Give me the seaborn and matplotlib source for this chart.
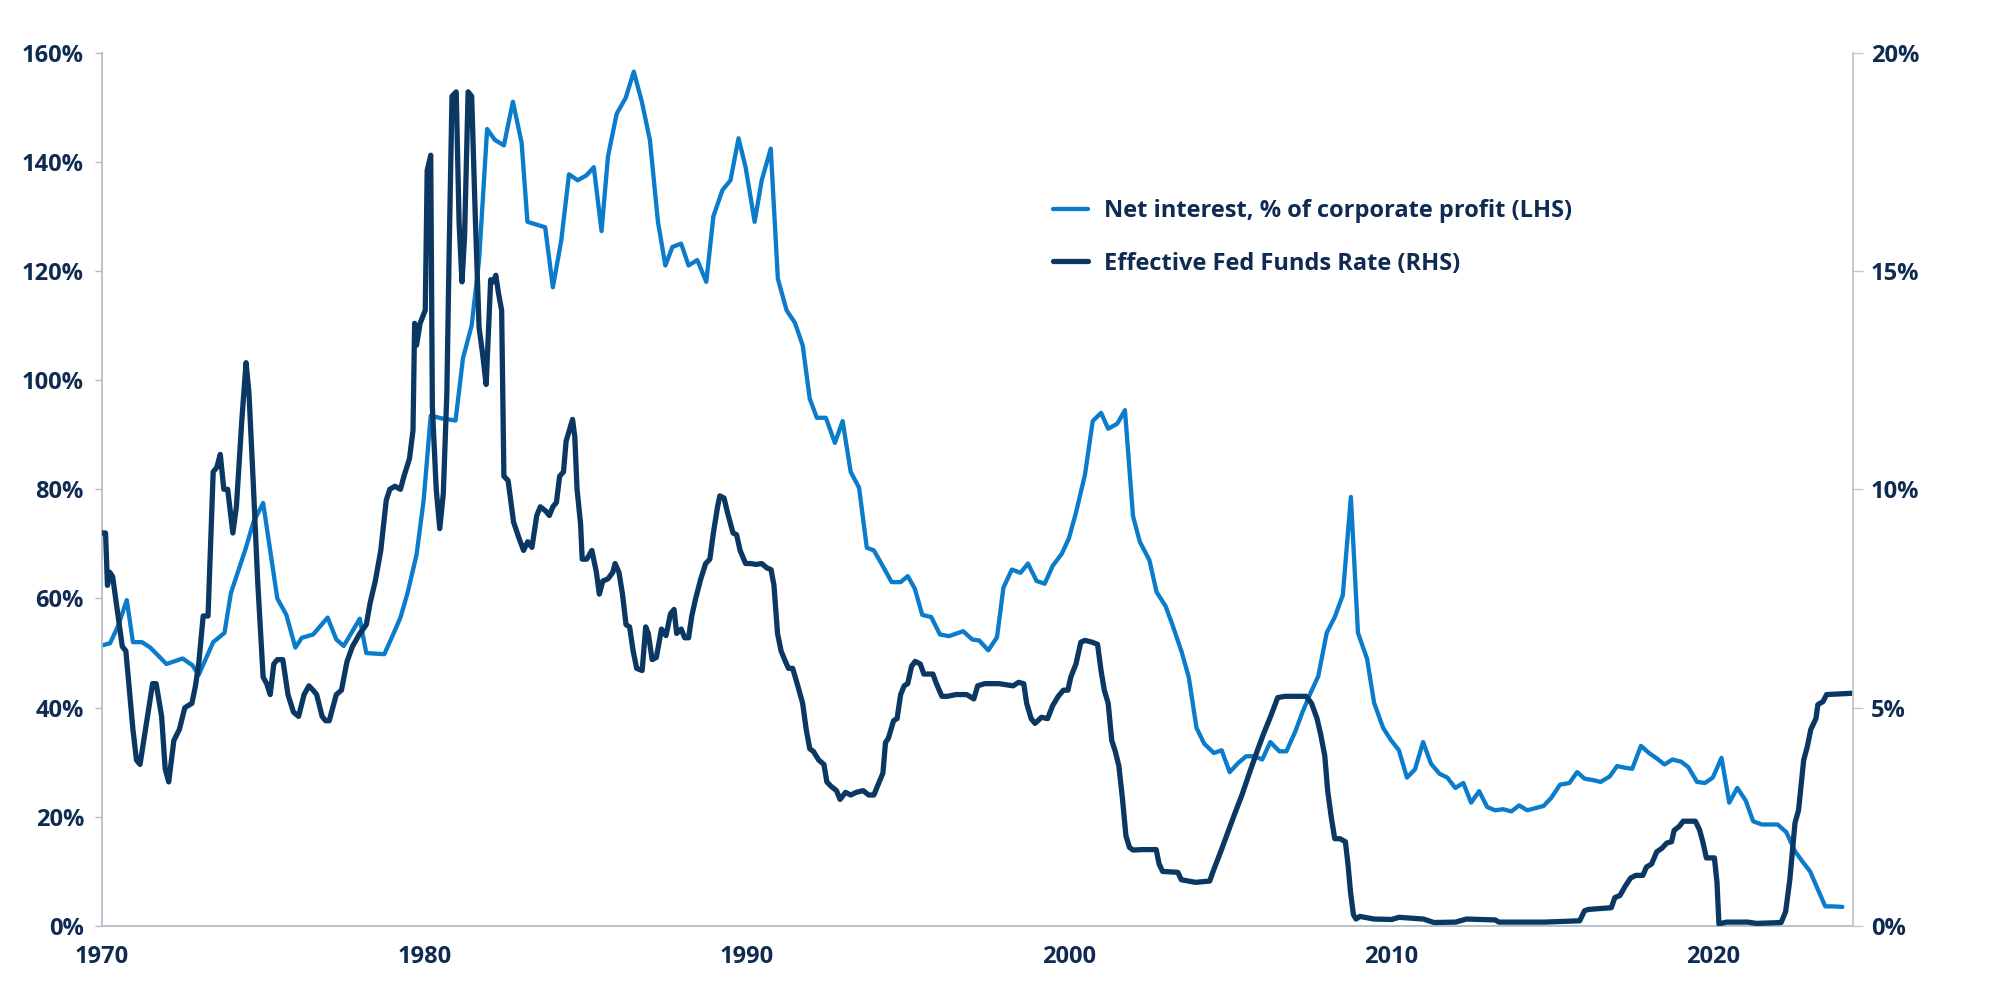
import matplotlib
matplotlib.use("Agg")
import matplotlib.pyplot as plt
import seaborn as sns
from matplotlib.ticker import FuncFormatter

# Net interest, % of corporate profit (LHS) (decimal year, %)
ni_year = [1970.0, 1970.25, 1970.5, 1970.77, 1970.96, 1971.24, 1971.5, 1971.7, 1972.0, 1972.5,
           1972.8, 1973.0, 1973.45, 1973.8, 1974.0, 1974.45, 1974.7, 1975.0, 1975.44, 1975.72,
           1976.0, 1976.2, 1976.55, 1977.0, 1977.27, 1977.5, 1978.0, 1978.2, 1978.76, 1979.04,
           1979.26, 1979.48, 1979.76, 1979.98, 1980.2, 1980.53, 1980.97, 1981.2, 1981.47, 1981.7,
           1981.95, 1982.19, 1982.47, 1982.75, 1983.02, 1983.2, 1983.75, 1983.99, 1984.25, 1984.49,
           1984.76, 1985.03, 1985.26, 1985.5, 1985.7, 1985.97, 1986.25, 1986.5, 1986.75, 1987.0,
           1987.25, 1987.48, 1987.7, 1987.97, 1988.2, 1988.47, 1988.75, 1988.97, 1989.25, 1989.5,
           1989.75, 1989.97, 1990.25, 1990.47, 1990.75, 1990.97, 1991.24, 1991.5, 1991.74, 1991.96,
           1992.18, 1992.46, 1992.74, 1992.98, 1993.23, 1993.49, 1993.73, 1993.95, 1994.23, 1994.5,
           1994.78, 1995.0, 1995.22, 1995.45, 1995.73, 1996.0, 1996.28, 1996.72, 1997.0, 1997.22,
           1997.5, 1997.77, 1997.97, 1998.23, 1998.5, 1998.73, 1999.0, 1999.25, 1999.5, 1999.78,
           2000.0, 2000.22, 2000.5, 2000.74, 2001.0, 2001.22, 2001.5, 2001.74, 2001.99, 2002.2,
           2002.5, 2002.72, 2003.0, 2003.2, 2003.5, 2003.72, 2003.96, 2004.2, 2004.5, 2004.74,
           2004.99, 2005.26, 2005.5, 2005.76, 2006.0, 2006.25, 2006.53, 2006.75, 2007.03, 2007.25,
           2007.5, 2007.74, 2008.0, 2008.25, 2008.5, 2008.75, 2008.97, 2009.25, 2009.47, 2009.75,
           2010.0, 2010.24, 2010.49, 2010.74, 2010.99, 2011.24, 2011.5, 2011.74, 2011.99, 2012.24,
           2012.48, 2012.73, 2012.98, 2013.22, 2013.47, 2013.73, 2013.97, 2014.22, 2014.47, 2014.73,
           2014.97, 2015.24, 2015.53, 2015.77, 2016.0, 2016.29, 2016.5, 2016.78, 2017.01, 2017.26,
           2017.48, 2017.75, 2018.0, 2018.24, 2018.48, 2018.73, 2019.0, 2019.22, 2019.49, 2019.74,
           2019.98, 2020.25, 2020.49, 2020.74, 2021.0, 2021.23, 2021.5, 2021.77, 2021.99, 2022.26,
           2022.53, 2022.75, 2023.0, 2023.24, 2023.47, 2023.72, 2024.0]
ni_pct = [51.4, 51.8, 55.0, 59.7, 52.0, 52.0, 51.0, 49.8, 48.0, 49.0,
          47.8, 46.0, 52.0, 53.7, 61.0, 69.0, 74.0, 77.5, 60.0, 57.0,
          51.0, 52.8, 53.4, 56.5, 52.5, 51.3, 56.3, 50.0, 49.8, 53.5,
          56.5, 61.0, 68.0, 78.0, 93.5, 93.0, 92.6, 104.0, 110.0, 122.0,
          146.0, 144.0, 143.0, 151.0, 143.5, 129.0, 128.0, 117.0, 125.6, 137.7,
          136.6, 137.5, 139.0, 127.3, 141.0, 148.8, 151.7, 156.5, 151.0, 144.0,
          129.0, 121.0, 124.4, 125.0, 121.0, 122.0, 118.0, 130.0, 134.8, 136.6,
          144.3, 139.0, 129.0, 136.6, 142.4, 118.6, 112.8, 110.5, 106.4, 96.6,
          93.1, 93.1, 88.5, 92.5, 83.2, 80.3, 69.3, 68.8, 65.9, 63.0,
          63.0, 64.1, 61.8, 57.0, 56.6, 53.4, 53.1, 54.0, 52.5, 52.3,
          50.5, 52.9, 62.0, 65.3, 64.7, 66.4, 63.2, 62.7, 66.0, 68.2,
          71.0, 75.7, 82.7, 92.5, 94.0, 91.1, 92.0, 94.5, 75.1, 70.4,
          67.0, 61.2, 58.6, 55.4, 50.2, 45.6, 36.3, 33.4, 31.7, 32.2,
          28.2, 29.9, 31.1, 31.1, 30.5, 33.7, 32.0, 32.0, 35.7, 39.2,
          42.7, 45.8, 53.7, 56.6, 60.6, 78.6, 53.7, 49.0, 40.9, 36.3,
          34.0, 32.2, 27.2, 28.7, 33.7, 29.7, 27.9, 27.2, 25.3, 26.2,
          22.6, 24.7, 21.8, 21.2, 21.4, 21.0, 22.1, 21.2, 21.6, 22.0,
          23.5, 25.9, 26.2, 28.2, 27.0, 26.7, 26.4, 27.4, 29.3, 29.0,
          28.8, 33.0, 31.7, 30.7, 29.6, 30.5, 30.1, 29.1, 26.4, 26.2,
          27.2, 30.8, 22.6, 25.3, 23.0, 19.2, 18.6, 18.6, 18.6, 17.2,
          13.7, 11.9, 10.0, 6.7, 3.6, 3.6, 3.5]

# Effective Fed Funds Rate (RHS) (decimal year, %)
ff_year = [1970.0, 1970.11, 1970.17, 1970.24, 1970.33, 1970.46, 1970.63, 1970.74, 1970.96, 1971.07,
           1971.18, 1971.35, 1971.57, 1971.68, 1971.85, 1971.96, 1972.07, 1972.23, 1972.4, 1972.57,
           1972.79, 1972.9, 1973.0, 1973.14, 1973.29, 1973.45, 1973.56, 1973.67, 1973.78, 1973.9,
           1974.06, 1974.17, 1974.34, 1974.47, 1974.56, 1974.69, 1974.83, 1975.0, 1975.11, 1975.22,
           1975.33, 1975.44, 1975.61, 1975.77, 1975.94, 1976.1, 1976.27, 1976.42, 1976.55, 1976.66,
           1976.83, 1976.94, 1977.05, 1977.27, 1977.43, 1977.6, 1977.77, 1978.0, 1978.2, 1978.32,
           1978.48, 1978.65, 1978.82, 1978.93, 1979.09, 1979.26, 1979.37, 1979.54, 1979.65, 1979.7,
           1979.76, 1979.87, 1980.03, 1980.09, 1980.2, 1980.25, 1980.37, 1980.48, 1980.59, 1980.7,
           1980.77, 1980.86, 1980.99, 1981.08, 1981.17, 1981.25, 1981.36, 1981.47, 1981.58, 1981.7,
           1981.81, 1981.92, 1982.06, 1982.14, 1982.22, 1982.3, 1982.4, 1982.47, 1982.6, 1982.77,
           1982.93, 1983.08, 1983.21, 1983.34, 1983.49, 1983.6, 1983.77, 1983.88, 1983.99, 1984.1,
           1984.2, 1984.32, 1984.4, 1984.52, 1984.6, 1984.67, 1984.74, 1984.85, 1984.9, 1985.04,
           1985.2, 1985.34, 1985.43, 1985.54, 1985.7, 1985.85, 1985.92, 1986.04, 1986.15, 1986.26,
           1986.37, 1986.48, 1986.59, 1986.76, 1986.87, 1986.95, 1987.07, 1987.2, 1987.36, 1987.5,
           1987.64, 1987.75, 1987.83, 1987.97, 1988.08, 1988.2, 1988.3, 1988.42, 1988.58, 1988.73,
           1988.86, 1988.97, 1989.1, 1989.17, 1989.3, 1989.41, 1989.58, 1989.69, 1989.8, 1989.97,
           1990.13, 1990.3, 1990.47, 1990.63, 1990.76, 1990.85, 1990.96, 1991.07, 1991.18, 1991.3,
           1991.43, 1991.57, 1991.74, 1991.85, 1991.96, 1992.07, 1992.24, 1992.4, 1992.49, 1992.62,
           1992.79, 1992.9, 1993.07, 1993.23, 1993.4, 1993.62, 1993.79, 1993.95, 1994.06, 1994.23,
           1994.31, 1994.4, 1994.56, 1994.67, 1994.78, 1994.89, 1995.0, 1995.12, 1995.23, 1995.39,
           1995.5, 1995.61, 1995.78, 1995.89, 1996.06, 1996.23, 1996.5, 1996.83, 1997.05, 1997.17,
           1997.39, 1997.83, 1998.27, 1998.44, 1998.6, 1998.69, 1998.83, 1998.95, 1999.15, 1999.34,
           1999.5, 1999.67, 1999.83, 1999.97, 2000.06, 2000.22, 2000.37, 2000.5, 2000.72, 2000.89,
           2001.0, 2001.1, 2001.22, 2001.33, 2001.44, 2001.55, 2001.66, 2001.77, 2001.88, 2001.99,
           2002.27, 2002.71, 2002.8, 2002.91, 2003.38, 2003.49, 2003.93, 2004.37, 2004.49, 2004.71,
           2004.93, 2005.15, 2005.37, 2005.6, 2005.82, 2006.04, 2006.26, 2006.48, 2006.7, 2007.36,
           2007.53, 2007.7, 2007.81, 2007.94, 2008.03, 2008.14, 2008.25, 2008.41, 2008.58, 2008.66,
           2008.74, 2008.83, 2008.91, 2009.03, 2009.47, 2010.02, 2010.24, 2011.0, 2011.33, 2012.0,
           2012.34, 2013.23, 2013.34, 2014.77, 2015.85, 2016.0, 2016.12, 2016.83, 2016.94, 2017.1,
           2017.26, 2017.43, 2017.59, 2017.81, 2017.92, 2018.08, 2018.24, 2018.4, 2018.55, 2018.7,
           2018.78, 2018.95, 2019.06, 2019.44, 2019.57, 2019.67, 2019.78, 2020.03, 2020.11, 2020.17,
           2020.41, 2021.06, 2021.34, 2022.1, 2022.24, 2022.37, 2022.53, 2022.64, 2022.8, 2022.91,
           2023.02, 2023.18, 2023.24, 2023.4, 2023.51, 2024.32]
ff_rate = [9.0, 9.0, 7.8, 8.1, 8.0, 7.3, 6.4, 6.3, 4.5, 3.8,
           3.7, 4.5, 5.55, 5.55, 4.8, 3.6, 3.3, 4.25, 4.5, 5.0,
           5.1, 5.5, 6.0, 7.1, 7.1, 10.4, 10.5, 10.8, 10.0, 10.0,
           9.0, 9.6, 11.6, 12.9, 12.2, 10.2, 7.9, 5.7, 5.55, 5.3,
           6.0, 6.1, 6.1, 5.3, 4.9, 4.8, 5.3, 5.5, 5.4, 5.3,
           4.8, 4.7, 4.7, 5.3, 5.4, 6.05, 6.4, 6.7, 6.9, 7.4,
           7.9, 8.6, 9.75, 10.0, 10.07, 10.0, 10.3, 10.7, 11.35, 13.8,
           13.3, 13.8, 14.1, 17.3, 17.65, 11.9, 10.0, 9.1, 9.9, 12.2,
           15.4, 19.0, 19.1, 16.1, 14.75, 15.8, 19.1, 19.0, 16.3, 13.7,
           13.1, 12.4, 14.8, 14.75, 14.9, 14.5, 14.1, 10.3, 10.2, 9.25,
           8.9, 8.6, 8.8, 8.67, 9.4, 9.6, 9.5, 9.4, 9.6, 9.7,
           10.3, 10.4, 11.1, 11.4, 11.6, 11.2, 10.0, 9.2, 8.4, 8.4,
           8.6, 8.1, 7.6, 7.9, 7.95, 8.1, 8.3, 8.1, 7.6, 6.9,
           6.85, 6.3, 5.9, 5.85, 6.85, 6.7, 6.1, 6.15, 6.8, 6.65,
           7.15, 7.25, 6.7, 6.8, 6.6, 6.6, 7.1, 7.5, 7.95, 8.3,
           8.4, 9.0, 9.6, 9.85, 9.8, 9.46, 9.0, 8.96, 8.6, 8.3,
           8.3, 8.28, 8.3, 8.2, 8.16, 7.8, 6.7, 6.3, 6.1, 5.9,
           5.9, 5.55, 5.1, 4.5, 4.06, 4.0, 3.8, 3.7, 3.3, 3.2,
           3.1, 2.9, 3.06, 3.0, 3.06, 3.1, 3.0, 3.0, 3.2, 3.5,
           4.2, 4.3, 4.7, 4.75, 5.3, 5.5, 5.55, 5.95, 6.06, 6.0,
           5.77, 5.77, 5.77, 5.55, 5.26, 5.26, 5.3, 5.3, 5.2, 5.5,
           5.55, 5.55, 5.5, 5.58, 5.55, 5.1, 4.75, 4.64, 4.78, 4.75,
           5.05, 5.26, 5.4, 5.4, 5.7, 6.0, 6.5, 6.54, 6.5, 6.45,
           5.84, 5.4, 5.1, 4.25, 4.0, 3.67, 2.94, 2.07, 1.8, 1.74,
           1.75, 1.75, 1.42, 1.25, 1.23, 1.06, 1.0, 1.03, 1.28, 1.7,
           2.14, 2.58, 3.0, 3.5, 3.96, 4.4, 4.8, 5.23, 5.26, 5.26,
           5.1, 4.75, 4.4, 3.9, 3.1, 2.5, 2.0, 2.0, 1.93, 1.42,
           0.77, 0.26, 0.16, 0.22, 0.16, 0.15, 0.2, 0.16, 0.08, 0.09,
           0.16, 0.14, 0.09, 0.09, 0.12, 0.35, 0.38, 0.42, 0.65, 0.7,
           0.91, 1.1, 1.16, 1.16, 1.35, 1.42, 1.7, 1.78, 1.9, 1.93,
           2.19, 2.29, 2.4, 2.4, 2.2, 1.93, 1.56, 1.56, 1.0, 0.05,
           0.09, 0.09, 0.06, 0.08, 0.33, 1.06, 2.36, 2.65, 3.8, 4.1,
           4.5, 4.75, 5.07, 5.14, 5.3, 5.33]

x_ticks = [1970, 1980, 1990, 2000, 2010, 2020]
lhs_ticks = [0, 20, 40, 60, 80, 100, 120, 140, 160]
rhs_ticks = [0, 5, 10, 15, 20]

label_ni = "Net interest, % of corporate profit (LHS)"
label_ff = "Effective Fed Funds Rate (RHS)"

light_blue = "#0b7bcb"
navy = "#0a3863"
text_col = "#0f2b52"
spine_col = "#b3bcc8"

sns.set_style("white")
plt.rcParams["font.family"] = ["Open Sans", "DejaVu Sans"]
plt.rcParams["font.weight"] = "bold"

fig = plt.figure(figsize=(20, 9.92), dpi=100)
ax = fig.add_axes([0.051, 0.0665, 0.8755, 0.8805])
ax2 = ax.twinx()

sns.lineplot(x=ni_year, y=ni_pct, ax=ax, color=light_blue, linewidth=3.1, legend=False)
sns.lineplot(x=ff_year, y=ff_rate, ax=ax2, color=navy, linewidth=3.8, legend=False)

ax.set_xlim(1970, 2024.33)
ax.set_ylim(0, 160)
ax2.set_ylim(0, 20)
ax.set_xticks(x_ticks)
ax.set_yticks(lhs_ticks)
ax2.set_yticks(rhs_ticks)
pct = FuncFormatter(lambda v, p: f"{v:.0f}%")
ax.yaxis.set_major_formatter(pct)
ax2.yaxis.set_major_formatter(pct)

for a in (ax, ax2):
    a.set_xlabel("")
    a.set_ylabel("")
    a.grid(False)
    a.spines["top"].set_visible(False)

ax.spines["right"].set_visible(False)
ax.spines["left"].set_color(spine_col)
ax.spines["bottom"].set_color(spine_col)
ax.spines["left"].set_linewidth(1.3)
ax.spines["bottom"].set_linewidth(1.3)
ax2.spines["left"].set_visible(False)
ax2.spines["bottom"].set_visible(False)
ax2.spines["right"].set_color("#c2c5c9")
ax2.spines["right"].set_linewidth(1.3)

ax.tick_params(axis="y", direction="out", length=5, width=1, color=spine_col,
               pad=8, labelsize=17, labelcolor=text_col)
ax.tick_params(axis="x", direction="out", length=5, width=1, color=spine_col,
               pad=9, labelsize=17, labelcolor=text_col)
ax2.tick_params(axis="y", direction="out", length=7, width=1, color="#c2c5c9",
                pad=6, labelsize=17, labelcolor=text_col)

handles = [ax.get_lines()[0], ax2.get_lines()[0]]
leg = fig.legend(handles, [label_ni, label_ff], loc="upper left",
                 bbox_to_anchor=(0.5265, 0.7995), frameon=False, fontsize=17,
                 handlelength=1.5, handletextpad=0.65, labelspacing=1.22,
                 borderpad=0, borderaxespad=0)
for t in leg.get_texts():
    t.set_color(text_col)
    t.set_fontweight("bold")

fig.savefig("out.png", dpi=100, facecolor="white")
